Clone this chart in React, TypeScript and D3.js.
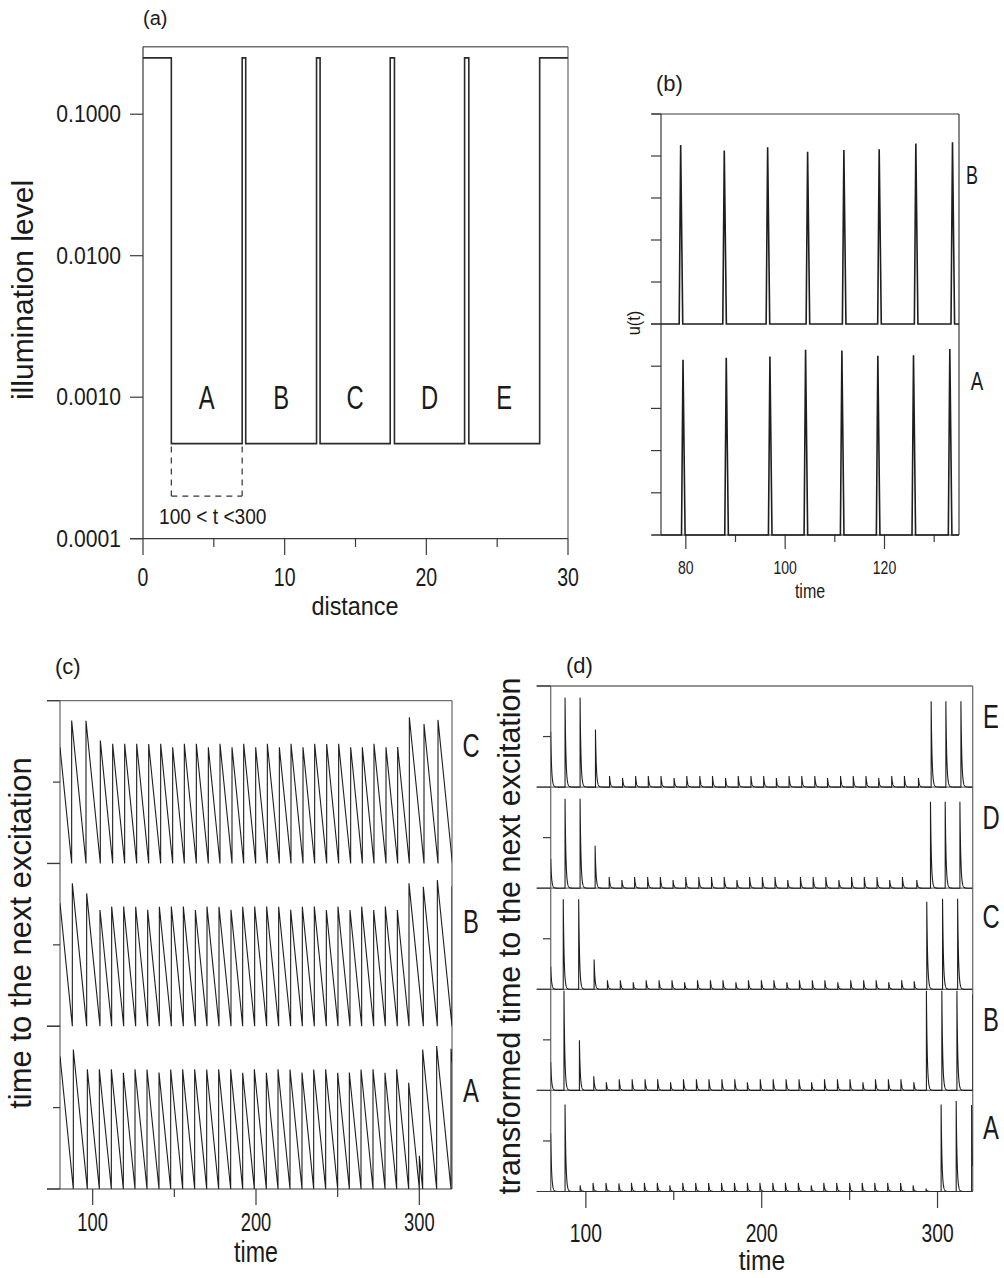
import React from "react";
import * as d3 from "d3";

const FONT = "'Liberation Sans', Arial, Helvetica, sans-serif";
const INK = "#1e1e1e";
const AXIS = "#3a3a3a";
const FRAME = "#707070";

// ---------------- Panel (a) ----------------
const aEdges = [0, 2, 7, 7.25, 12.25, 12.5, 17.45, 17.75, 22.7, 23, 28, 30];
const aLevels = [0.25, 0.00047, 0.25, 0.00047, 0.25, 0.00047, 0.25, 0.00047, 0.25, 0.00047, 0.25, 0.25];
const aWellLabels = ["A", "B", "C", "D", "E"];
const aWindow = [2, 7];
const aWindowFloor = 0.0002;
const aWindowText = "100 < t <300";
const aYTicks = [0.0001, 0.001, 0.01, 0.1];
const aYTickLabels = ["0.0001", "0.0010", "0.0100", "0.1000"];
const aXTicks = [0, 10, 20, 30];
const aXMinor = [5, 15, 25];

// ---------------- Panel (b) ----------------
const bTimesB = [78.96, 87.74, 96.47, 104.52, 111.82, 118.93, 126.31, 133.69];
const bPeaksB = [4.26, 4.13, 4.21, 4.1, 4.14, 4.16, 4.3, 4.33];
const bTimesA = [79.43, 88.14, 96.93, 104.11, 111.42, 118.66, 125.84, 133.15];
const bPeaksA = [4.15, 4.2, 4.23, 4.39, 4.37, 4.25, 4.26, 4.41];
const bXTicks = [80, 100, 120];
const bXMinor = [90, 110, 130];
const bYTicks = [0, 1, 2, 3, 4, 5];

// ---------------- Panel (c) ----------------
const cTracks = ["C", "B", "A"];
const cTimesC = [87.14, 95.92, 104.69, 112.24, 119.59, 126.94, 134.29, 141.63, 148.98, 156.12, 163.47, 170.82, 177.96,
  185.31, 192.45, 199.8, 206.94, 214.29, 221.43, 228.78, 235.92, 243.27, 250.61, 257.96, 265.1, 272.24, 279.59, 286.73,
  293.88, 302.86, 311.43, 320.25];
const cTimesB = [87.55, 96.33, 104.49, 111.63, 118.98, 126.33, 133.67, 140.82, 148.16, 155.51, 162.86, 170.0, 177.35,
  184.69, 191.84, 199.18, 206.53, 213.88, 221.22, 228.37, 235.71, 243.06, 250.2, 257.55, 264.69, 272.04, 279.18, 286.53,
  293.67, 302.45, 311.02, 320.0, 328.6];
const cTimesA = [88.16, 96.73, 104.08, 111.43, 118.78, 125.92, 133.27, 140.61, 147.76, 155.1, 162.45, 169.8, 177.14,
  184.49, 191.84, 198.98, 206.33, 213.47, 220.82, 228.16, 235.31, 242.65, 250.0, 257.14, 264.29, 271.63, 278.98, 286.12,
  293.47, 300.0, 302.04, 310.61, 319.39, 328.0];
const cXTicks = [100, 200, 300];
const cXMinor = [150, 250];
const cYTicks = [0, 5, 10];

// ---------------- Panel (d) ----------------
const dTracks = ["E", "D", "C", "B", "A"];
const dTimesE = [88.16, 96.71, 105.46, 113.45, 120.86, 128.28, 135.5, 142.73, 150.15, 157.37, 164.79, 172.01, 179.43,
  186.65, 193.88, 201.1, 208.33, 215.55, 222.78, 230.2, 237.42, 244.84, 252.06, 259.29, 266.52, 273.93, 281.16, 289.15,
  296.37, 304.74, 313.3];
const dHeightsE = [1.77, 1.77, 1.14, 0.22, 0.18, 0.22, 0.22, 0.22, 0.18, 0.22, 0.22, 0.22, 0.18, 0.22, 0.22, 0.22, 0.18,
  0.22, 0.22, 0.22, 0.18, 0.22, 0.22, 0.22, 0.18, 0.22, 0.22, 0.18, 1.7, 1.7, 1.7];
const dTimesD = [88.16, 96.71, 105.27, 113.26, 120.49, 127.71, 135.13, 142.35, 149.58, 156.8, 164.22, 171.44, 178.67,
  185.89, 193.12, 200.35, 207.57, 214.8, 222.02, 229.25, 236.47, 243.89, 251.11, 258.34, 265.57, 272.79, 280.02, 288.19,
  295.99, 304.36, 312.73];
const dHeightsD = [1.77, 1.77, 0.84, 0.22, 0.16, 0.22, 0.22, 0.22, 0.16, 0.22, 0.22, 0.22, 0.22, 0.16, 0.22, 0.22, 0.22,
  0.16, 0.22, 0.22, 0.22, 0.16, 0.22, 0.22, 0.22, 0.16, 0.22, 0.16, 1.71, 1.71, 1.71];
const dHeightsC = [1.78, 1.78, 0.59, 0.18, 0.18, 0.14, 0.18, 0.18, 0.18, 0.14, 0.18, 0.18, 0.18, 0.14, 0.18, 0.18, 0.18,
  0.14, 0.18, 0.18, 0.18, 0.14, 0.18, 0.18, 0.18, 0.14, 0.18, 0.16, 1.73, 1.79, 1.79, 1.75];
const dHeightsB = [1.97, 0.99, 0.28, 0.16, 0.22, 0.22, 0.22, 0.22, 0.16, 0.22, 0.22, 0.22, 0.22, 0.22, 0.16, 0.22, 0.22,
  0.22, 0.22, 0.16, 0.22, 0.22, 0.22, 0.16, 0.22, 0.22, 0.22, 0.16, 1.97, 1.97, 1.97, 1.9, 1.9];
const dHeightsA = [1.72, 0.12, 0.17, 0.17, 0.16, 0.17, 0.17, 0.17, 0.12, 0.17, 0.17, 0.17, 0.17, 0.17, 0.17, 0.17, 0.17,
  0.17, 0.17, 0.12, 0.17, 0.17, 0.17, 0.17, 0.17, 0.17, 0.17, 0.12, 0.06, 0.0, 1.72, 1.79, 1.71, 1.7];
const dEdgeValues = [1.1, 0.58, 0.45, 0.56, 1.15];
const dXTicks = [100, 200, 300];
const dXMinor = [150, 250];
const dYTicks = [0, 1, 2];

type TxtProps = { x: number; y: number; size: number; anchor?: string; sx?: number; rot?: number; children: React.ReactNode };
function Txt({ x, y, size, anchor = "middle", sx = 1, rot = 0, children }: TxtProps) {
  return (
    <text transform={`translate(${x},${y}) rotate(${rot}) scale(${sx},1)`} fontFamily={FONT} fontSize={size}
      textAnchor={anchor as any} fill="#1a1a1a">{children}</text>
  );
}

function Ln({ x1, y1, x2, y2, c = AXIS, w = 1.2, dash }: any) {
  return <line x1={x1} y1={y1} x2={x2} y2={y2} stroke={c} strokeWidth={w} strokeDasharray={dash} />;
}

function sawtooth(times: number[], t0: number) {
  const pts: [number, number][] = [[t0, times[0] - t0]];
  times.forEach((t, i) => {
    pts.push([t, 0]);
    if (i + 1 < times.length) pts.push([t, times[i + 1] - t]);
  });
  return pts;
}

function spikeTrain(times: number[], heights: number[], edge: number, t0: number, t1: number, tau: number) {
  const ts: number[] = [];
  for (let t = t0; t <= t1 + 1e-9; t += 0.05) ts.push(t);
  times.forEach((t) => { if (t >= t0 && t <= t1) { ts.push(t - 1e-4); ts.push(t); } });
  ts.sort((a, b) => a - b);
  return ts.map((t) => {
    let v = edge * Math.exp(-(t - t0) / tau);
    times.forEach((ti, i) => { if (ti <= t) v += heights[i] * Math.exp(-(t - ti) / tau); });
    return [t, v] as [number, number];
  });
}

export default function App() {
  // ---------- (a) scales ----------
  const ax = d3.scaleLinear().domain([0, 30]).range([143, 568]);
  const ay = d3.scaleLog().domain([0.0001, 0.3]).range([538.7, 46.7]);
  const aLine = d3.line<[number, number]>().curve(d3.curveStepAfter).x((d) => ax(d[0])).y((d) => ay(d[1]));
  const aPath = aLine(aEdges.map((e, i) => [e, aLevels[i]] as [number, number])) || "";
  const wellCenters = aWellLabels.map((_, i) => (aEdges[1 + 2 * i] + aEdges[2 + 2 * i]) / 2);

  // ---------- (b) scales ----------
  const bx = d3.scaleLinear().domain([75, 135]).range([661, 959]);
  const byB = d3.scaleLinear().domain([0, 5]).range([324, 114]);
  const byA = d3.scaleLinear().domain([0, 5]).range([535, 324]);
  const spikePts = (times: number[], peaks: number[]) => {
    const pts: [number, number][] = [[75, 0]];
    times.forEach((t, i) => { pts.push([t - 0.3, 0], [t, peaks[i]], [t + 0.42, 0]); });
    pts.push([135, 0]);
    return pts;
  };
  const bLineB = d3.line<[number, number]>().x((d) => bx(d[0])).y((d) => byB(d[1]));
  const bLineA = d3.line<[number, number]>().x((d) => bx(d[0])).y((d) => byA(d[1]));

  // ---------- (c) scales ----------
  const cx = d3.scaleLinear().domain([80, 320]).range([60, 452]);
  const cTop = 700.7, cBot = 1189;
  const cH = (cBot - cTop) / 3;
  const cY = cTracks.map((_, k) => d3.scaleLinear().domain([0, 10]).range([cTop + (k + 1) * cH, cTop + k * cH]));
  const cData = [cTimesC, cTimesB, cTimesA];

  // ---------- (d) scales ----------
  const dx = d3.scaleLinear().domain([80, 320]).range([550.7, 972.7]);
  const dTop = 686, dBot = 1191.5;
  const dH = (dBot - dTop) / 5;
  const dY = dTracks.map((_, k) => d3.scaleLinear().domain([0, 2]).range([dTop + (k + 1) * dH, dTop + k * dH]));
  const dData = [
    { times: dTimesE, h: dHeightsE },
    { times: dTimesD, h: dHeightsD },
    { times: cTimesC, h: dHeightsC },
    { times: cTimesB, h: dHeightsB },
    { times: cTimesA, h: dHeightsA },
  ];

  return (
    <svg width={1004} height={1278} viewBox="0 0 1004 1278"
      style={{ position: "absolute", left: 0, top: 0, background: "#fff" }}>
      <rect x={0} y={0} width={1004} height={1278} fill="#fff" />
      <defs>
        <clipPath id="clipC"><rect x={60} y={cTop} width={392} height={cBot - cTop} /></clipPath>
        <clipPath id="clipD"><rect x={550.7} y={dTop} width={422} height={dBot - dTop} /></clipPath>
      </defs>

      {/* ================= (a) ================= */}
      <Txt x={143} y={25} size={20} anchor="start">(a)</Txt>
      <Ln x1={143} y1={46.7} x2={568} y2={46.7} c={FRAME} w={1.5} />
      <Ln x1={568} y1={46.7} x2={568} y2={538.7} c={FRAME} w={1.3} />
      <Ln x1={143} y1={46.7} x2={143} y2={538.7} />
      <Ln x1={130} y1={538.7} x2={568} y2={538.7} />
      {aYTicks.map((v, i) => (
        <g key={"ayt" + i}>
          <Ln x1={130} y1={ay(v)} x2={143} y2={ay(v)} />
          <Txt x={121} y={ay(v) + 8} size={23} anchor="end" sx={0.92}>{aYTickLabels[i]}</Txt>
        </g>
      ))}
      {aXTicks.map((v) => (
        <g key={"axt" + v}>
          <Ln x1={ax(v)} y1={538.7} x2={ax(v)} y2={555} />
          <Txt x={ax(v)} y={586} size={25} sx={0.78}>{v}</Txt>
        </g>
      ))}
      {aXMinor.map((v) => <Ln key={"axm" + v} x1={ax(v)} y1={538.7} x2={ax(v)} y2={547} />)}
      <path d={aPath} fill="none" stroke="#2a2a2a" strokeWidth={1.6} />
      {aWellLabels.map((l, i) => (
        <Txt key={"wl" + l} x={ax(wellCenters[i])} y={ay(0.001) + 12} size={33} sx={0.72}>{l}</Txt>
      ))}
      <Ln x1={ax(aWindow[0])} y1={ay(aLevels[1]) + 3} x2={ax(aWindow[0])} y2={ay(aWindowFloor)} c="#333" w={1.2} dash="6,5" />
      <Ln x1={ax(aWindow[1])} y1={ay(aLevels[1]) + 3} x2={ax(aWindow[1])} y2={ay(aWindowFloor)} c="#333" w={1.2} dash="6,5" />
      <Ln x1={ax(aWindow[0])} y1={ay(aWindowFloor)} x2={ax(aWindow[1])} y2={ay(aWindowFloor)} c="#333" w={1.2} dash="6,5" />
      <Txt x={ax((aWindow[0] + aWindow[1]) / 2) + 6} y={524} size={22} sx={0.87}>{aWindowText}</Txt>
      <Txt x={355} y={615} size={26} sx={0.9}>distance</Txt>
      <Txt x={33} y={290} size={30} rot={-90}>illumination level</Txt>

      {/* ================= (b) ================= */}
      <Txt x={656} y={91} size={22} anchor="start">(b)</Txt>
      <Ln x1={652} y1={114} x2={959} y2={114} />
      <Ln x1={959} y1={114} x2={959} y2={535} c={AXIS} w={1.2} />
      <Ln x1={661} y1={114} x2={661} y2={535} />
      <Ln x1={652} y1={535} x2={959} y2={535} />
      {bYTicks.map((v) => (
        <g key={"byt" + v}>
          <Ln x1={651} y1={byB(v)} x2={661} y2={byB(v)} />
          <Ln x1={651} y1={byA(v)} x2={661} y2={byA(v)} />
        </g>
      ))}
      {bXTicks.map((v) => (
        <g key={"bxt" + v}>
          <Ln x1={bx(v)} y1={535} x2={bx(v)} y2={549} />
          <Txt x={bx(v)} y={574} size={18.5} sx={0.76}>{v}</Txt>
        </g>
      ))}
      {bXMinor.map((v) => <Ln key={"bxm" + v} x1={bx(v)} y1={535} x2={bx(v)} y2={542} />)}
      <path d={bLineB(spikePts(bTimesB, bPeaksB)) || ""} fill="none" stroke={INK} strokeWidth={1.6} />
      <path d={bLineA(spikePts(bTimesA, bPeaksA)) || ""} fill="none" stroke={INK} strokeWidth={1.6} />
      <Txt x={972} y={184} size={25} sx={0.72}>B</Txt>
      <Txt x={977} y={390} size={26} sx={0.72}>A</Txt>
      <Txt x={810} y={598} size={20} sx={0.8}>time</Txt>
      <Txt x={640} y={323} size={18} rot={-90} sx={0.9}>u(t)</Txt>

      {/* ================= (c) ================= */}
      <Txt x={55} y={674} size={22} anchor="start">(c)</Txt>
      <Ln x1={47} y1={cTop} x2={452} y2={cTop} c={FRAME} w={1.3} />
      <Ln x1={452} y1={cTop} x2={452} y2={cBot} c={FRAME} w={1.3} />
      <Ln x1={60} y1={cTop} x2={60} y2={cBot} c={FRAME} w={1.3} />
      <Ln x1={47} y1={cBot} x2={452} y2={cBot} />
      {cY.map((ys, k) => (
        <g key={"cyt" + k}>
          {cYTicks.map((v) => (
            <Ln key={"cyt" + k + "-" + v} x1={v === 5 ? 53 : 47} y1={ys(v)} x2={60} y2={ys(v)} />
          ))}
        </g>
      ))}
      {cXTicks.map((v) => (
        <g key={"cxt" + v}>
          <Ln x1={cx(v)} y1={cBot} x2={cx(v)} y2={1205} />
          <Txt x={cx(v)} y={1231} size={25.5} sx={0.72}>{v}</Txt>
        </g>
      ))}
      {cXMinor.map((v) => <Ln key={"cxm" + v} x1={cx(v)} y1={cBot} x2={cx(v)} y2={1197} />)}
      <g clipPath="url(#clipC)">
        {cData.map((times, k) => {
          const line = d3.line<[number, number]>().x((d) => cx(d[0])).y((d) => cY[k](d[1]));
          return <path key={"cl" + k} d={line(sawtooth(times, 80)) || ""} fill="none" stroke={INK} strokeWidth={1.1} />;
        })}
      </g>
      <Txt x={471} y={757} size={33} sx={0.72}>C</Txt>
      <Txt x={471} y={933} size={33} sx={0.72}>B</Txt>
      <Txt x={471} y={1102} size={33} sx={0.72}>A</Txt>
      <Txt x={256} y={1262} size={29} sx={0.8}>time</Txt>
      <Txt x={31} y={933} size={31} rot={-90}>time to the next excitation</Txt>

      {/* ================= (d) ================= */}
      <Txt x={566} y={673} size={22} anchor="start">(d)</Txt>
      <Ln x1={536.7} y1={dTop} x2={972.7} y2={dTop} c={FRAME} w={1.3} />
      <Ln x1={972.7} y1={dTop} x2={972.7} y2={dBot} c={FRAME} w={1.3} />
      <Ln x1={550.7} y1={dTop} x2={550.7} y2={dBot} c={FRAME} w={1.3} />
      {dY.map((ys, k) => (
        <g key={"dyt" + k}>
          {dYTicks.map((v) => (
            <Ln key={"dyt" + k + "-" + v} x1={v === 1 ? 543 : 536.7} y1={ys(v)} x2={v === 0 ? 972.7 : 550.7} y2={ys(v)}
              c={v === 0 ? FRAME : AXIS} />
          ))}
        </g>
      ))}
      <Ln x1={536.7} y1={dBot} x2={972.7} y2={dBot} />
      {dXTicks.map((v) => (
        <g key={"dxt" + v}>
          <Ln x1={dx(v)} y1={dBot} x2={dx(v)} y2={1208} />
          <Txt x={dx(v)} y={1242} size={25} sx={0.77}>{v}</Txt>
        </g>
      ))}
      {dXMinor.map((v) => <Ln key={"dxm" + v} x1={dx(v)} y1={dBot} x2={dx(v)} y2={1200} />)}
      <g clipPath="url(#clipD)">
        {dData.map((tr, k) => {
          const line = d3.line<[number, number]>().x((d) => dx(d[0])).y((d) => dY[k](d[1]));
          return <path key={"dl" + k} d={line(spikeTrain(tr.times, tr.h, dEdgeValues[k], 80, 320, 0.5)) || ""}
            fill="none" stroke={INK} strokeWidth={1.1} />;
        })}
      </g>
      {dTracks.map((l, k) => (
        <Txt key={"dlab" + l} x={991} y={[716, 817, 916, 1019, 1127][k] + 12} size={34} sx={0.7}>{l}</Txt>
      ))}
      <Txt x={762} y={1270} size={28} sx={0.88}>time</Txt>
      <Txt x={520} y={936} size={30.5} rot={-90}>transformed time to the next excitation</Txt>
    </svg>
  );
}
